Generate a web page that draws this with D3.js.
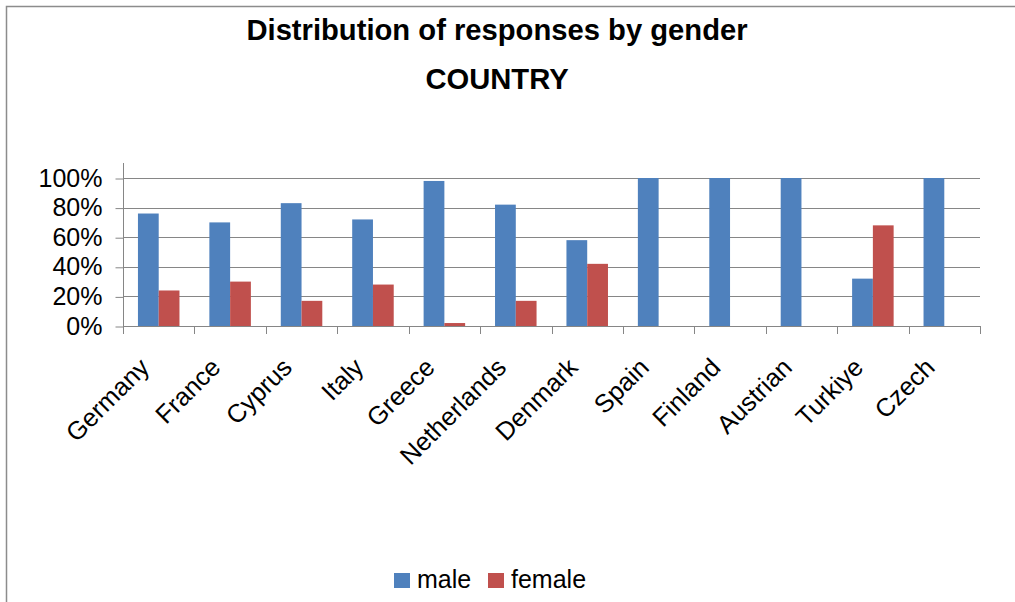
<!DOCTYPE html>
<html>
<head>
<meta charset="utf-8">
<script src="https://cdn.jsdelivr.net/npm/d3@7"></script>
<style>
  html, body { margin: 0; padding: 0; background: #fff; overflow: hidden; }
  svg { display: block; font-family: "Liberation Sans", Arial, sans-serif; }
</style>
</head>
<body>
<svg id="chart" width="1015" height="602"></svg>
<script>
const countries = ['Germany', 'France', 'Cyprus', 'Italy', 'Greece', 'Netherlands',
    'Denmark', 'Spain', 'Finland', 'Austrian', 'Turkiye', 'Czech']
const male = [0.76, 0.70, 0.83, 0.72, 0.98, 0.82, 0.58, 1, 1, 1, 0.32, 1]
const female = [0.24, 0.30, 0.17, 0.28, 0.02, 0.17, 0.42, 0, 0, 0, 0.68, 0]
const seriesNames = ['male', 'female']
const colors = ['#4F81BD', '#C0504D']
const yTicks = [0, 0.2, 0.4, 0.6, 0.8, 1]

const svg = d3.select('#chart')

// outer frame: only the top and left edges are inside the picture
svg.append('path')
    .attr('d', 'M6.5,602V6.5H1015')
    .attr('fill', 'none').attr('stroke', '#8c8c8c').attr('stroke-width', 1.5)

const plotLeft = 123, plotRight = 980, plotTop = 178, plotBottom = 326

const x = d3.scaleBand().domain(countries).range([plotLeft, plotRight])
const x1 = d3.scaleBand().domain(seriesNames)
    .range([0, x.bandwidth()]).paddingInner(0).paddingOuter(0.72)
const y = d3.scaleLinear().domain([0, 1]).range([plotBottom, plotTop])

// gridlines
svg.append('g')
    .selectAll('line')
    .data(yTicks)
    .join('line')
    .attr('x1', plotLeft).attr('x2', plotRight)
    .attr('y1', d => Math.round(y(d)) + 0.5)
    .attr('y2', d => Math.round(y(d)) + 0.5)
    .attr('stroke', '#868686')

// y axis
const yAxis = svg.append('g')
    .attr('transform', `translate(${plotLeft + 0.5},0)`)
    .call(d3.axisLeft(y).tickValues(yTicks).tickFormat(d3.format('.0%'))
        .tickSize(8).tickPadding(13))
yAxis.select('.domain').remove()
yAxis.selectAll('.tick line').attr('stroke', '#868686')
    .attr('transform', 'translate(0,0.5)')
yAxis.selectAll('.tick text')
    .attr('font-size', 25).attr('fill', '#000')
    .attr('font-family', '"Liberation Sans", Arial, sans-serif')
svg.append('line')
    .attr('x1', plotLeft + 0.5).attr('x2', plotLeft + 0.5)
    .attr('y1', 163).attr('y2', plotBottom)
    .attr('stroke', '#868686')

// bars
const series = [male, female]
svg.append('g')
    .selectAll('g')
    .data(series)
    .join('g')
    .attr('fill', (d, i) => colors[i])
    .selectAll('rect')
    .data((d, i) => d.map((v, j) => ({ v, c: countries[j], s: seriesNames[i] })))
    .join('rect')
    .attr('x', d => x(d.c) + x1(d.s))
    .attr('width', x1.bandwidth())
    .attr('y', d => y(d.v))
    .attr('height', d => plotBottom - y(d.v))

// x axis
const bounds = countries.map(c => x(c)).concat([plotRight])
svg.append('line')
    .attr('x1', plotLeft).attr('x2', plotRight)
    .attr('y1', plotBottom + 0.5).attr('y2', plotBottom + 0.5)
    .attr('stroke', '#868686')
svg.append('g')
    .selectAll('line')
    .data(bounds)
    .join('line')
    .attr('x1', d => Math.round(d) + 0.5).attr('x2', d => Math.round(d) + 0.5)
    .attr('y1', plotBottom).attr('y2', plotBottom + 8)
    .attr('stroke', '#868686')

svg.append('g')
    .selectAll('text')
    .data(countries)
    .join('text')
    .attr('transform', d => `translate(${x(d) + x.bandwidth() / 2 - 8},${plotBottom + 43}) rotate(-45)`)
    .attr('text-anchor', 'end')
    .attr('font-size', 25.5)
    .attr('fill', '#000')
    .text(d => d)

// title
svg.append('text')
    .attr('x', 497).attr('y', 40)
    .attr('text-anchor', 'middle')
    .attr('font-size', 29.2).attr('font-weight', 'bold')
    .text('Distribution of responses by gender')
svg.append('text')
    .attr('x', 497).attr('y', 89)
    .attr('text-anchor', 'middle')
    .attr('font-size', 29.2).attr('font-weight', 'bold')
    .text('COUNTRY')

// legend
const legendX = [394, 488]
const legend = svg.append('g')
    .selectAll('g')
    .data(seriesNames)
    .join('g')
    .attr('transform', (d, i) => `translate(${legendX[i]},573)`)
legend.append('rect')
    .attr('width', 16).attr('height', 15)
    .attr('fill', (d, i) => colors[i])
legend.append('text')
    .attr('x', 23).attr('y', 15)
    .attr('font-size', 25)
    .text(d => d)
</script>
</body>
</html>
